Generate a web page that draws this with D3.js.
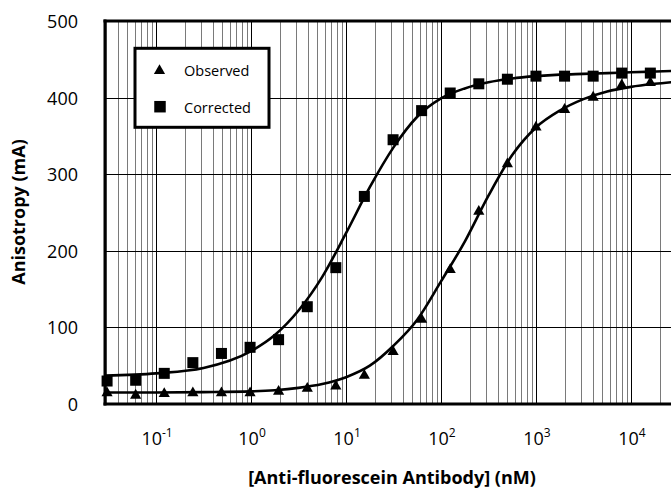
<!DOCTYPE html>
<html>
<head>
<meta charset="utf-8">
<script src="https://cdn.jsdelivr.net/npm/d3@7"></script>
<style>
  html, body { margin: 0; padding: 0; background: #fff; }
  svg { display: block; }
  text { font-family: "Open Sans", "Noto Sans", sans-serif; fill: #000; }
</style>
</head>
<body>
<svg id="chart" width="671" height="490"></svg>
<script>
// ---------------- data ----------------
const concentrations = [0.0305, 0.061, 0.122, 0.244, 0.488, 0.977, 1.95, 3.91, 7.81, 15.6,
                        31.3, 62.5, 125, 250, 500, 1000, 2000, 4000, 8000, 16000];
const observed  = [16, 13, 15, 16, 16, 16, 18, 22, 25, 39, 70, 112, 177, 253, 315, 363, 386, 402, 418, 421];
const corrected = [30, 31, 40, 54, 66, 74, 84, 127, 178, 271, 345, 383, 406, 418, 424, 428, 428, 428, 432, 432];

// fitted curves at quarter-decade steps
const fitConc = [0.029, 0.1, 0.316, 1, 1.78, 3.16, 5.62, 10, 17.8, 31.6, 56.2, 100, 178, 316,
                 562, 1000, 1780, 3160, 5620, 10000, 17800, 31600];
const observedFit  = [15, 15, 15.5, 16.5, 18, 21, 26, 35, 50, 76, 110, 160, 212, 272,
                      325, 361, 383, 398, 408, 414, 418, 421];
const correctedFit = [37, 40, 47, 69, 90, 122, 166, 223, 283, 335, 375, 399, 412, 420,
                      425, 428, 430, 431, 432, 433, 434, 435];

const yTicks = [0, 100, 200, 300, 400, 500];
const xTickExponents = [-1, 0, 1, 2, 3, 4];
const seriesNames = ["Observed", "Corrected"];
const xTitle = "[Anti-fluorescein Antibody] (nM)";
const yTitle = "Anisotropy (mA)";

// ---------------- layout ----------------
const svg = d3.select("#chart");
const W = 671, H = 490;
const pL = 105, pT = 21, pB = 404, pR = 671;

const x = d3.scaleLog().domain([0.029, 26400]).range([pL, pR]);
const y = d3.scaleLinear().domain([0, 500]).range([pB, pT]);

svg.append("rect").attr("width", W).attr("height", H).attr("fill", "#fff");

svg.append("defs").append("clipPath").attr("id", "plotclip")
  .append("rect").attr("x", pL).attr("y", pT - 2).attr("width", pR - pL).attr("height", pB - pT + 4);

// vertical grid (log minor + decades)
const gridV = svg.append("g");
x.ticks().forEach(v => {
  const e = Math.log10(v);
  const isDecade = Math.abs(e - Math.round(e)) < 1e-9;
  const px = Math.round(x(v)) + 0.5;
  gridV.append("line")
    .attr("x1", px).attr("x2", px).attr("y1", pT).attr("y2", pB)
    .attr("stroke", isDecade ? "#000" : "#7a7a7a")
    .attr("stroke-width", 1);
});

// horizontal grid
const gridH = svg.append("g");
yTicks.filter(t => t > 0 && t < 500).forEach(t => {
  const py = Math.round(y(t)) + 0.5;
  gridH.append("line")
    .attr("x1", pL).attr("x2", pR).attr("y1", py).attr("y2", py)
    .attr("stroke", "#000").attr("stroke-width", 1);
});

// fitted curves
const line = d3.line()
  .x(d => x(d[0]))
  .y(d => y(d[1]))
  .curve(d3.curveMonotoneX);

const curves = svg.append("g").attr("clip-path", "url(#plotclip)");
[observedFit, correctedFit].forEach(vals => {
  curves.append("path")
    .attr("d", line(fitConc.map((c, i) => [c, vals[i]])))
    .attr("fill", "none").attr("stroke", "#000").attr("stroke-width", 2.6);
});

// markers
const sq = 11;
const triPath = "M0,-5.2L5.6,4.6L-5.6,4.6Z";
const marks = svg.append("g");
marks.selectAll("rect.sq").data(concentrations.map((c, i) => [c, corrected[i]]))
  .join("rect").attr("class", "sq")
  .attr("x", d => x(d[0]) - sq / 2).attr("y", d => y(d[1]) - sq / 2)
  .attr("width", sq).attr("height", sq).attr("fill", "#000");
marks.selectAll("path.tri").data(concentrations.map((c, i) => [c, observed[i]]))
  .join("path").attr("class", "tri")
  .attr("d", triPath)
  .attr("transform", d => `translate(${x(d[0])},${y(d[1])})`)
  .attr("fill", "#000");

// frame
const frame = svg.append("g").attr("stroke", "#000").attr("stroke-width", 3);
frame.append("line").attr("x1", pL).attr("x2", pL).attr("y1", pT - 1.5).attr("y2", pB + 1.5);
frame.append("line").attr("x1", pL - 1.5).attr("x2", pR).attr("y1", pT).attr("y2", pT);
frame.append("line").attr("x1", pL - 1.5).attr("x2", pR).attr("y1", pB).attr("y2", pB);

// y tick labels
const yl = svg.append("g");
yTicks.forEach(t => {
  yl.append("text")
    .attr("x", 78).attr("y", y(t))
    .attr("text-anchor", "end").attr("dominant-baseline", "central")
    .attr("font-size", 18).text(t);
});

// x tick labels
const xl = svg.append("g");
xTickExponents.forEach(e => {
  const t = xl.append("text")
    .attr("x", x(Math.pow(10, e)) + 1).attr("y", 445)
    .attr("text-anchor", "middle").attr("font-size", 18);
  t.append("tspan").text("10");
  t.append("tspan").attr("dy", -8).attr("font-size", 12).text(String(e));
});

// axis titles
svg.append("text")
  .attr("x", 392).attr("y", 484)
  .attr("text-anchor", "middle").attr("font-size", 18).attr("font-weight", "bold")
  .text(xTitle);
svg.append("text")
  .attr("transform", "translate(25,212) rotate(-90)")
  .attr("text-anchor", "middle").attr("font-size", 18).attr("font-weight", "bold")
  .text(yTitle);

// legend
const lg = svg.append("g");
lg.append("rect").attr("x", 135).attr("y", 48.3).attr("width", 134).attr("height", 79)
  .attr("fill", "#fff").attr("stroke", "#000").attr("stroke-width", 3);
lg.append("path").attr("d", triPath).attr("transform", "translate(159.5,69.5)").attr("fill", "#000");
lg.append("rect").attr("x", 160 - 5.75).attr("y", 106.7 - 5.75).attr("width", 11.5).attr("height", 11.5).attr("fill", "#000");
lg.append("text").attr("x", 184).attr("y", 70).attr("dominant-baseline", "central")
  .attr("font-size", 14.5).text(seriesNames[0]);
lg.append("text").attr("x", 184).attr("y", 107).attr("dominant-baseline", "central")
  .attr("font-size", 14.5).text(seriesNames[1]);
</script>
</body>
</html>
